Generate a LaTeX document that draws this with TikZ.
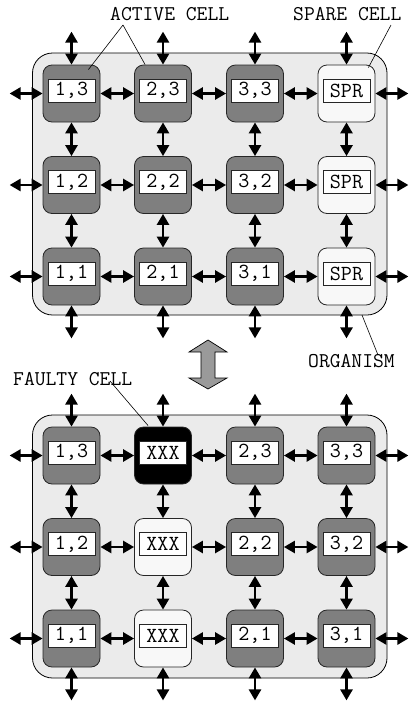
\documentclass[tikz,border=0pt]{standalone}
\usetikzlibrary{arrows.meta,calc}
\definecolor{orgfill}{HTML}{EBEBEB}
\definecolor{actfill}{HTML}{7F7F7F}
\definecolor{sparefill}{HTML}{F8F8F8}
\definecolor{bigarrow}{HTML}{9A9A9A}
\newcommand{\labfont}{\fontsize{21.5}{22}\selectfont\ttfamily}
\newcommand{\capfont}{\fontsize{21}{22}\selectfont\ttfamily}
\tikzset{
  cellbox/.style={draw=black!85, line width=0.8pt, rounded corners=9pt, minimum width=57pt, minimum height=57pt, inner sep=0pt},
  active/.style={cellbox, fill=actfill},
  spare/.style={cellbox, fill=sparefill},
  faulty/.style={cellbox, fill=black},
  lbl/.style={draw=black!85, fill=white, line width=0.8pt, minimum width=47pt, minimum height=23pt, inner sep=0pt, font=\labfont},
  link/.style={line width=2.6pt, {Triangle[length=11pt,width=12pt]}-{Triangle[length=11pt,width=12pt]}},
  org/.style={draw=black, line width=0.8pt, fill=orgfill, rounded corners=20pt},
  caption/.style={font=\capfont, inner sep=0pt, anchor=base west},
  pointer/.style={line width=0.6pt},
  swap/.style={draw=black, line width=0.7pt, fill=bigarrow}
}
\begin{document}
\begin{tikzpicture}[x=1pt,y=-1pt]
\useasboundingbox (0,0) rectangle (409,702);
% organisms
\path[org] (32.5,53) rectangle (387,315);
\path[org] (32.5,415) rectangle (387,678);

% cells
\def\cx{{71.5,163,255,346.5}}
\foreach \name/\c/\r/\sty/\txt in {
  t13/0/93.5/active/{1,3}, t23/1/93.5/active/{2,3}, t33/2/93.5/active/{3,3}, t43/3/93.5/spare/SPR,
  t12/0/185/active/{1,2}, t22/1/185/active/{2,2}, t32/2/185/active/{3,2}, t42/3/185/spare/SPR,
  t11/0/276.5/active/{1,1}, t21/1/276.5/active/{2,1}, t31/2/276.5/active/{3,1}, t41/3/276.5/spare/SPR,
  b13/0/455.5/active/{1,3}, b23/1/455.5/faulty/XXX, b33/2/455.5/active/{2,3}, b43/3/455.5/active/{3,3},
  b12/0/547/active/{1,2}, b22/1/547/spare/XXX, b32/2/547/active/{\raisebox{3pt}{2,2}}, b42/3/547/active/{3,2},
  b11/0/638.5/active/{1,1}, b21/1/638.5/spare/XXX, b31/2/638.5/active/{2,1}, b41/3/638.5/active/{3,1}}
{
  \pgfmathsetmacro{\xx}{\cx[\c]}
  \node[\sty] (\name) at (\xx,\r) {};
  \node[lbl] (\name l) at (\xx,\r-3) {\txt};
}

% links
\foreach \g in {t,b}{
  \foreach \c in {1,2,3,4}{
    \coordinate (\g\c top) at ($(\g\c3.north)+(0,-33)$);
    \coordinate (\g\c bot) at ($(\g\c1.south)+(0,33)$);
    \draw[link] (\g\c top) -- (\g\c3.north);
    \draw[link] (\g\c3.south) -- (\g\c2.north);
    \draw[link] (\g\c2.south) -- (\g\c1.north);
    \draw[link] (\g\c1.south) -- (\g\c bot);
  }
  \foreach \r in {1,2,3}{
    \coordinate (\g L\r) at ($(\g1\r.west)+(-33,0)$);
    \coordinate (\g R\r) at ($(\g4\r.east)+(33,0)$);
    \draw[link] (\g L\r) -- (\g1\r.west);
    \draw[link] (\g1\r.east) -- (\g2\r.west);
    \draw[link] (\g2\r.east) -- (\g3\r.west);
    \draw[link] (\g3\r.east) -- (\g4\r.west);
    \draw[link] (\g4\r.east) -- (\g R\r);
  }
}

% captions
\node[caption] (active) at (110,20) {ACTIVE CELL};
\node[caption] (spare) at (293,20) {SPARE CELL};
\node[caption] (organism) at (308,367) {ORGANISM};
\node[caption] (faulty) at (13,385) {FAULTY CELL};
\coordinate (actroot) at (123,25);
\draw[pointer] (actroot) -- ($(t13.north east)+(-12,5)$);
\draw[pointer] (actroot) -- ($(t23.north west)+(11,0)$);
\draw[pointer] (391,25) -- ($(t43.north east)+(-7,3)$);
\draw[pointer] (378,355) -- (362,315);
\draw[pointer] (110,381) -- ($(b23.north west)+(14,-1)$);

% big double arrow
\path[swap] (208,340) -- (227,352) -- (215,352) -- (215,378) -- (227,378) -- (208,389)
  -- (189,378) -- (201,378) -- (201,352) -- (189,352) -- cycle;
\end{tikzpicture}
\end{document}
